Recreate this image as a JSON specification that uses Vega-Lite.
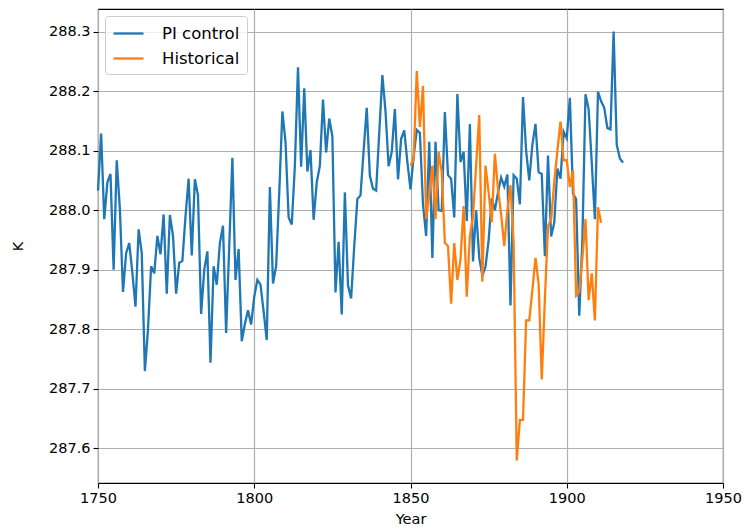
{
  "$schema": "https://vega.github.io/schema/vega-lite/v6.json",
  "autosize": {"type": "none"},
  "width": 625,
  "height": 474,
  "padding": {"left": 98, "top": 9, "right": 26, "bottom": 45},
  "background": "white",
  "config": {
    "font": "DejaVu Sans",
    "view": {"stroke": "black", "strokeWidth": 1.1},
    "axis": {
      "labelFont": "DejaVu Sans",
      "titleFont": "DejaVu Sans",
      "labelFontSize": 14.5,
      "titleFontSize": 14.5,
      "titleFontWeight": "normal",
      "labelColor": "#000000",
      "titleColor": "#000000",
      "tickColor": "#000000",
      "tickSize": 5,
      "tickWidth": 1.1,
      "labelPadding": 3,
      "domain": false,
      "grid": true,
      "gridColor": "#b0b0b0",
      "gridWidth": 1.2
    },
    "legend": {
      "labelFont": "DejaVu Sans",
      "labelFontSize": 16.5,
      "labelColor": "#000000"
    }
  },
  "datasets": {
    "pi": [
      {"year":1750,"K":288.033},{"year":1751,"K":288.129},{"year":1752,"K":287.985},{"year":1753,"K":288.047},{"year":1754,"K":288.061},
      {"year":1755,"K":287.900},{"year":1756,"K":288.084},{"year":1757,"K":288.002},{"year":1758,"K":287.863},{"year":1759,"K":287.928},
      {"year":1760,"K":287.945},{"year":1761,"K":287.895},{"year":1762,"K":287.838},{"year":1763,"K":287.968},{"year":1764,"K":287.928},
      {"year":1765,"K":287.730},{"year":1766,"K":287.800},{"year":1767,"K":287.906},{"year":1768,"K":287.894},{"year":1769,"K":287.957},
      {"year":1770,"K":287.926},{"year":1771,"K":287.993},{"year":1772,"K":287.860},{"year":1773,"K":287.992},{"year":1774,"K":287.957},
      {"year":1775,"K":287.860},{"year":1776,"K":287.912},{"year":1777,"K":287.915},{"year":1778,"K":287.990},{"year":1779,"K":288.053},
      {"year":1780,"K":287.924},{"year":1781,"K":288.052},{"year":1782,"K":288.025},{"year":1783,"K":287.826},{"year":1784,"K":287.900},
      {"year":1785,"K":287.931},{"year":1786,"K":287.744},{"year":1787,"K":287.906},{"year":1788,"K":287.875},{"year":1789,"K":287.945},
      {"year":1790,"K":287.974},{"year":1791,"K":287.794},{"year":1792,"K":287.940},{"year":1793,"K":288.088},{"year":1794,"K":287.883},
      {"year":1795,"K":287.935},{"year":1796,"K":287.780},{"year":1797,"K":287.809},{"year":1798,"K":287.832},{"year":1799,"K":287.808},
      {"year":1800,"K":287.855},{"year":1801,"K":287.883},{"year":1802,"K":287.875},{"year":1803,"K":287.830},{"year":1804,"K":287.782},
      {"year":1805,"K":288.039},{"year":1806,"K":287.877},{"year":1807,"K":287.906},{"year":1808,"K":288.030},{"year":1809,"K":288.166},
      {"year":1810,"K":288.115},{"year":1811,"K":287.988},{"year":1812,"K":287.976},{"year":1813,"K":288.075},{"year":1814,"K":288.240},
      {"year":1815,"K":288.073},{"year":1816,"K":288.205},{"year":1817,"K":288.065},{"year":1818,"K":288.101},{"year":1819,"K":287.984},
      {"year":1820,"K":288.047},{"year":1821,"K":288.075},{"year":1822,"K":288.186},{"year":1823,"K":288.097},{"year":1824,"K":288.154},
      {"year":1825,"K":288.124},{"year":1826,"K":287.862},{"year":1827,"K":287.947},{"year":1828,"K":287.825},{"year":1829,"K":288.030},
      {"year":1830,"K":287.874},{"year":1831,"K":287.852},{"year":1832,"K":287.940},{"year":1833,"K":288.019},{"year":1834,"K":288.025},
      {"year":1835,"K":288.100},{"year":1836,"K":288.172},{"year":1837,"K":288.058},{"year":1838,"K":288.036},{"year":1839,"K":288.033},
      {"year":1840,"K":288.130},{"year":1841,"K":288.227},{"year":1842,"K":288.166},{"year":1843,"K":288.074},{"year":1844,"K":288.098},
      {"year":1845,"K":288.170},{"year":1846,"K":288.052},{"year":1847,"K":288.120},{"year":1848,"K":288.134},{"year":1849,"K":288.081},
      {"year":1850,"K":288.035},{"year":1851,"K":288.090},{"year":1852,"K":288.135},{"year":1853,"K":288.130},{"year":1854,"K":288.010},
      {"year":1855,"K":287.957},{"year":1856,"K":288.115},{"year":1857,"K":287.920},{"year":1858,"K":288.115},{"year":1859,"K":288.000},
      {"year":1860,"K":287.999},{"year":1861,"K":288.165},{"year":1862,"K":288.059},{"year":1863,"K":288.053},{"year":1864,"K":287.988},
      {"year":1865,"K":288.195},{"year":1866,"K":288.081},{"year":1867,"K":288.098},{"year":1868,"K":287.982},{"year":1869,"K":288.145},
      {"year":1870,"K":287.914},{"year":1871,"K":288.000},{"year":1872,"K":287.920},{"year":1873,"K":287.890},{"year":1874,"K":287.905},
      {"year":1875,"K":287.950},{"year":1876,"K":288.020},{"year":1877,"K":288.000},{"year":1878,"K":288.030},{"year":1879,"K":288.055},
      {"year":1880,"K":288.040},{"year":1881,"K":288.060},{"year":1882,"K":287.840},{"year":1883,"K":288.059},{"year":1884,"K":288.053},
      {"year":1885,"K":288.010},{"year":1886,"K":288.190},{"year":1887,"K":288.100},{"year":1888,"K":288.050},{"year":1889,"K":288.110},
      {"year":1890,"K":288.145},{"year":1891,"K":288.064},{"year":1892,"K":288.061},{"year":1893,"K":287.923},{"year":1894,"K":288.092},
      {"year":1895,"K":287.956},{"year":1896,"K":287.979},{"year":1897,"K":288.070},{"year":1898,"K":288.053},{"year":1899,"K":288.132},
      {"year":1900,"K":288.121},{"year":1901,"K":288.189},{"year":1902,"K":288.028},{"year":1903,"K":288.019},{"year":1904,"K":287.823},
      {"year":1905,"K":287.950},{"year":1906,"K":288.195},{"year":1907,"K":288.170},{"year":1908,"K":288.080},{"year":1909,"K":287.985},
      {"year":1910,"K":288.199},{"year":1911,"K":288.183},{"year":1912,"K":288.172},{"year":1913,"K":288.138},{"year":1914,"K":288.136},
      {"year":1915,"K":288.300},{"year":1916,"K":288.110},{"year":1917,"K":288.087},{"year":1918,"K":288.080}
    ],
    "hist": [
      {"year":1850,"K":288.075},{"year":1851,"K":288.085},{"year":1852,"K":288.234},{"year":1853,"K":288.140},{"year":1854,"K":288.209},
      {"year":1855,"K":287.985},{"year":1856,"K":288.027},{"year":1857,"K":288.075},{"year":1858,"K":287.985},{"year":1859,"K":288.098},
      {"year":1860,"K":288.064},{"year":1861,"K":287.945},{"year":1862,"K":287.940},{"year":1863,"K":287.843},{"year":1864,"K":287.945},
      {"year":1865,"K":287.883},{"year":1866,"K":287.917},{"year":1867,"K":288.007},{"year":1868,"K":287.855},{"year":1869,"K":287.957},
      {"year":1870,"K":287.990},{"year":1871,"K":288.075},{"year":1872,"K":288.160},{"year":1873,"K":287.880},{"year":1874,"K":288.075},
      {"year":1875,"K":288.030},{"year":1876,"K":287.980},{"year":1877,"K":288.095},{"year":1878,"K":288.036},{"year":1879,"K":287.993},
      {"year":1880,"K":287.940},{"year":1881,"K":288.000},{"year":1882,"K":288.042},{"year":1883,"K":287.945},{"year":1884,"K":287.580},
      {"year":1885,"K":287.648},{"year":1886,"K":287.648},{"year":1887,"K":287.815},{"year":1888,"K":287.815},{"year":1889,"K":287.866},
      {"year":1890,"K":287.920},{"year":1891,"K":287.877},{"year":1892,"K":287.716},{"year":1893,"K":287.850},{"year":1894,"K":287.973},
      {"year":1895,"K":287.985},{"year":1896,"K":288.047},{"year":1897,"K":288.100},{"year":1898,"K":288.149},{"year":1899,"K":288.084},
      {"year":1900,"K":288.084},{"year":1901,"K":288.039},{"year":1902,"K":288.067},{"year":1903,"K":287.857},{"year":1904,"K":287.863},
      {"year":1905,"K":287.920},{"year":1906,"K":287.985},{"year":1907,"K":287.849},{"year":1908,"K":287.894},{"year":1909,"K":287.815},
      {"year":1910,"K":288.005},{"year":1911,"K":287.979}
    ]
  },
  "encoding": {
    "x": {
      "field": "year", "type": "quantitative",
      "scale": {"domain": [1750, 1950], "nice": false, "zero": false},
      "axis": {"title": "Year", "values": [1750, 1800, 1850, 1900, 1950], "format": "d", "titlePadding": 8, "labelFlush": false}
    },
    "y": {
      "field": "K", "type": "quantitative",
      "scale": {"domain": [287.542, 288.338], "nice": false, "zero": false},
      "axis": {"title": "K", "values": [287.6, 287.7, 287.8, 287.9, 288.0, 288.1, 288.2, 288.3], "format": ".1f", "titlePadding": 23}
    }
  },
  "layer": [
    {
      "data": {"name": "pi"},
      "mark": {"type": "line", "strokeWidth": 2.3},
      "encoding": {
        "color": {
          "datum": "PI control",
          "type": "nominal",
          "scale": {"domain": ["PI control", "Historical"], "range": ["#1f77b4", "#ff7f0e"]},
          "legend": {
            "title": null,
            "orient": "none",
            "legendX": 7,
            "legendY": 7,
            "symbolType": "M-1,0H2.33",
            "symbolSize": 324,
            "symbolStrokeWidth": 2.3,
            "labelOffset": 29,
            "rowPadding": 6,
            "padding": 7,
            "strokeColor": "#cccccc",
            "fillColor": "rgba(255,255,255,0.8)",
            "cornerRadius": 3
          }
        }
      }
    },
    {
      "data": {"name": "hist"},
      "mark": {"type": "line", "strokeWidth": 2.3},
      "encoding": {
        "color": {"datum": "Historical", "type": "nominal"}
      }
    }
  ]
}
